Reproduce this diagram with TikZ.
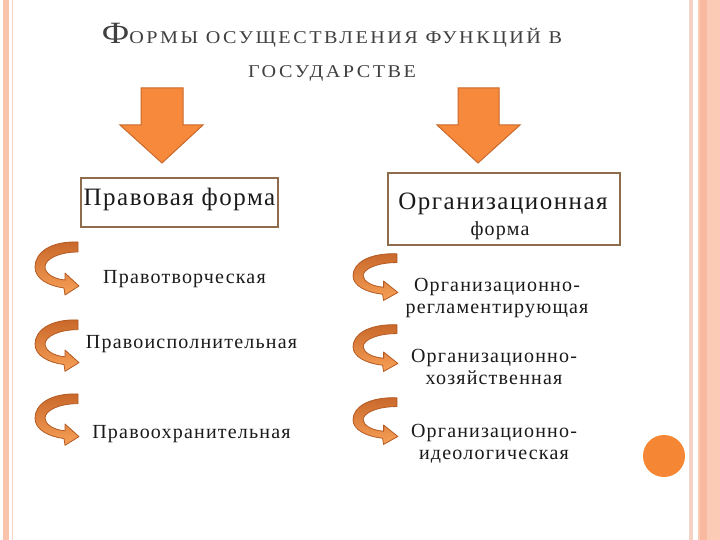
\documentclass[tikz,border=0pt]{standalone}
\usepackage{fontspec}
\setmainfont{Liberation Serif}
\newfontfamily\bodyf{Liberation Serif}[LetterSpace=6]
\newfontfamily\titlef{Liberation Serif}[LetterSpace=14, FakeStretch=1.12]
\definecolor{pinkA}{HTML}{F9C3AC}
\definecolor{pinkB}{HTML}{FCCBB6}
\definecolor{pinkC}{HTML}{F8B9A0}
\definecolor{pinkLine}{HTML}{F4D3C4}
\definecolor{arrowfill}{HTML}{F6893B}
\definecolor{arrowline}{HTML}{C9692B}
\definecolor{curvetop}{HTML}{C8672A}
\definecolor{curvebot}{HTML}{F7A057}
\definecolor{curveline}{HTML}{B35A22}
\definecolor{boxline}{HTML}{8E6C4C}
\definecolor{titlegray}{HTML}{404040}
\definecolor{dotorange}{HTML}{F58633}
\definecolor{textblack}{HTML}{1A1A1A}
\tikzset{
  curvy/.pic={
    \shadedraw[top color=curvetop, bottom color=curvebot, draw=curveline, line width=0.8pt, line join=round]
      (43,2) .. controls (15,1) and (0,13) .. (0,27)
      .. controls (0,39) and (14,46) .. (29,48)
      -- (30,55) -- (44,46) -- (30,33) -- (30,40)
      .. controls (18,39) and (10,33) .. (10,27)
      .. controls (10,19) and (24,12) .. (43,12) -- cycle;
  },
  bigarrow/.style={fill=arrowfill, draw=arrowline, line width=1pt, line join=miter},
  formbox/.style={draw=boxline, line width=2.2pt, fill=white, inner sep=0pt},
  titletext/.style={text=titlegray, font=\titlef\fontsize{18}{20}\selectfont, inner sep=0pt},
  itemtext/.style={text=textblack, font=\bodyf\fontsize{20}{22}\selectfont, inner sep=0pt},
  boxtext/.style={text=textblack, font=\bodyf\fontsize{25}{28}\selectfont, inner sep=0pt},
}
\begin{document}
\begin{tikzpicture}[x=1pt,y=-1pt]
\useasboundingbox (0,0) rectangle (720,540);
\fill[white] (0,0) rectangle (720,540);
% page borders
\fill[pinkA] (3,0) rectangle (9,540);
\fill[pinkLine] (11.5,0) rectangle (13,540);
\fill[pinkLine] (689,0) rectangle (693,540);
\fill[pinkB] (698,0) rectangle (720,540);
\fill[pinkC] (700,0) rectangle (707,540);
% title
\node[titletext, anchor=base] (t1) at (332,44) {{\fontsize{31}{31}\selectfont Ф}ОРМЫ ОСУЩЕСТВЛЕНИЯ ФУНКЦИЙ В};
\node[titletext, anchor=base] (t2) at (332,78) {ГОСУДАРСТВЕ};
% big down arrows
\filldraw[bigarrow] (141,88) -- (183,88) -- (183,125) -- (203,125) -- (162,163) -- (120,125) -- (141,125) -- cycle;
\filldraw[bigarrow] (458,88) -- (499,88) -- (499,125) -- (520,125) -- (478,163) -- (437,125) -- (458,125) -- cycle;
% boxes
\node[formbox, minimum width=197pt, minimum height=49pt] (pravbox) at (179.5,202.5) {};
\node[boxtext, anchor=base] (pravtext) at (179.5,206) {Правовая форма};
\node[formbox, minimum width=232pt, minimum height=72pt] (orgbox) at (504,209) {};
\node[boxtext, anchor=base] (orgtext1) at (503,210) {Организационная};
\node[itemtext, anchor=base] (orgtext2) at (500,236) {форма};
% curved arrows
\pic at (35,240) {curvy};
\pic[yscale=0.97] at (35,318) {curvy};
\pic[yscale=0.97] at (35,392) {curvy};
\pic[xscale=1.02, yscale=0.88] at (353,252) {curvy};
\pic[xscale=1.02, yscale=0.88] at (353,323) {curvy};
\pic[xscale=1.02, yscale=0.88] at (353,396) {curvy};
% left items
\node[itemtext, anchor=base] (p1) at (184.5,283) {Правотворческая};
\node[itemtext, anchor=base] (p2) at (191.5,348) {Правоисполнительная};
\node[itemtext, anchor=base] (p3) at (191.5,438) {Правоохранительная};
% right items
\node[itemtext, align=center] (o1) at (497,298) {Организационно-\\регламентирующая};
\node[itemtext, align=center] (o2) at (494,367) {Организационно-\\хозяйственная};
\node[itemtext, align=center] (o3) at (494,444) {Организационно-\\идеологическая};
% dot
\fill[dotorange] (664,456) circle[radius=21pt];
\end{tikzpicture}
\end{document}
